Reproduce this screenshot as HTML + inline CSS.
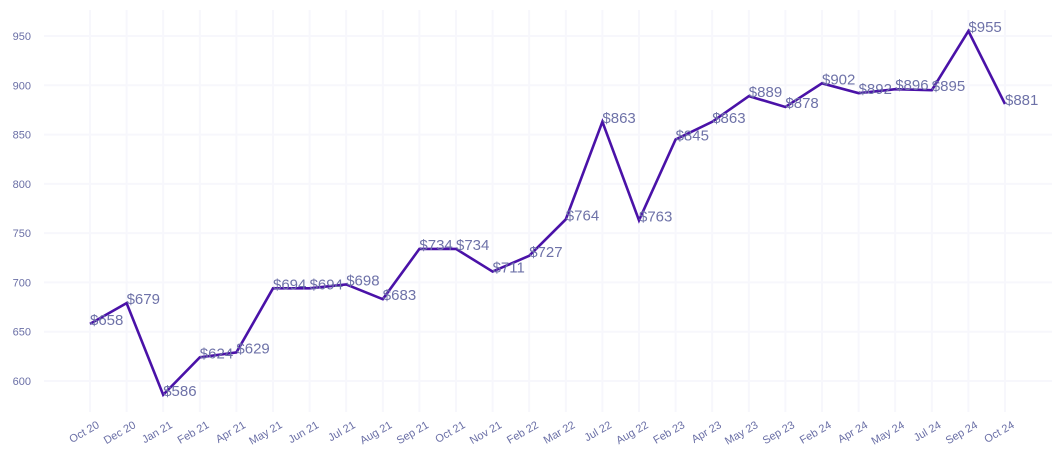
<!DOCTYPE html>
<html><head><meta charset="utf-8"><style>
body{margin:0;background:#fff}
svg{display:block;font-family:"Liberation Sans",sans-serif}
</style></head><body>
<svg id="chart" width="1064" height="465" viewBox="0 0 1064 465">
<g id="grid"></g>
<g id="yaxis"></g>
<g id="xaxis"></g>
<g id="series"></g>
</svg>
<script>
const categories=["Oct 20","Dec 20","Jan 21","Feb 21","Apr 21","May 21","Jun 21","Jul 21","Aug 21","Sep 21","Oct 21","Nov 21","Feb 22","Mar 22","Jul 22","Aug 22","Feb 23","Apr 23","May 23","Sep 23","Feb 24","Apr 24","May 24","Jul 24","Sep 24","Oct 24"];
const values=[658,679,586,624,629,694,694,698,683,734,734,711,727,764,863,763,845,863,889,878,902,892,896,895,955,881];
const yTicks=[600,650,700,750,800,850,900,950];
const NS="http://www.w3.org/2000/svg";
const x0=90,x1=1005;
function xs(i){return x0+(x1-x0)*i/(categories.length-1);}
function ys(v){return 381-(v-600)*(345/350);}
function mk(t,a,p){const e=document.createElementNS(NS,t);for(const k in a)e.setAttribute(k,a[k]);p.appendChild(e);return e;}
const grid=document.getElementById('grid'),ya=document.getElementById('yaxis'),xa=document.getElementById('xaxis'),se=document.getElementById('series');
yTicks.forEach(v=>{
  const l=mk('line',{x1:44,x2:1052,y1:ys(v),y2:ys(v),stroke:'#f7f7fc','stroke-width':2},grid);
  
  
  const t=mk('text',{x:31,y:ys(v)+4,'text-anchor':'end','font-size':11,fill:'#6a6fa6'},ya);
  t.textContent=v;
  
  
});
categories.forEach((c,i)=>{
  const l=mk('line',{x1:xs(i),x2:xs(i),y1:10,y2:412,stroke:'#f7f7fc','stroke-width':2},grid);
  
  
  const t=mk('text',{x:xs(i)+10,y:427,'text-anchor':'end','font-size':11,fill:'#6a6fa6',transform:`rotate(-30 ${xs(i)+10} 427)`},xa);
  t.textContent=c;
  
  
});
const pts=values.map((v,i)=>xs(i)+','+ys(v)).join(' ');
const pl=mk('polyline',{points:pts,fill:'none',stroke:'#4a12a8','stroke-width':2.6,'stroke-linejoin':'miter'},se);


values.forEach((v,i)=>{
  const t=mk('text',{x:xs(i),y:ys(v)+1,'font-size':15,fill:'#6e72a8'},se);
  t.textContent='$'+v;
  
  
});
</script>
</body></html>
